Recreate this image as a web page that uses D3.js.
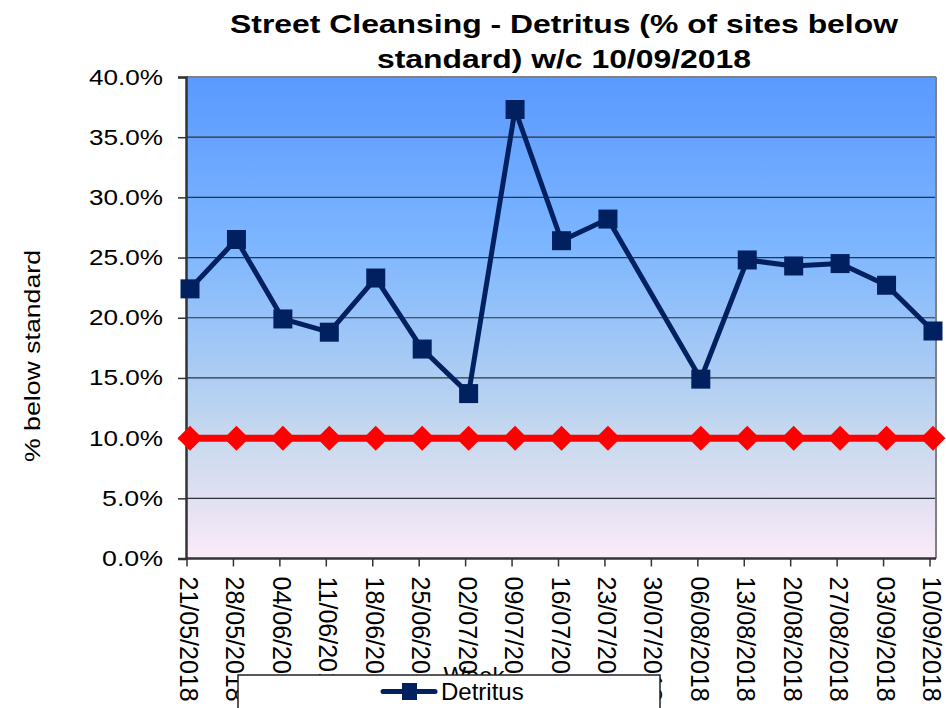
<!DOCTYPE html>
<html><head><meta charset="utf-8">
<script src="https://cdn.jsdelivr.net/npm/d3@7"></script>
<style>body{margin:0;background:#fff}svg text{font-family:"Liberation Sans",Arial,sans-serif}</style>
</head><body><svg id="c" width="946" height="708"></svg>
<script>
const categories = ["21/05/2018","28/05/2018","04/06/2018","11/06/2018","18/06/2018","25/06/2018","02/07/2018","09/07/2018","16/07/2018","23/07/2018","30/07/2018","06/08/2018","13/08/2018","20/08/2018","27/08/2018","03/09/2018","10/09/2018"];
const detritus = [22.4,26.5,19.9,18.8,23.3,17.4,13.7,37.3,26.4,28.2,null,14.9,24.8,24.3,24.5,22.7,18.9];
const target = [10,10,10,10,10,10,10,10,10,10,null,10,10,10,10,10,10];
const yTicks = [0,5,10,15,20,25,30,35,40];
const titleLines = ["Street Cleansing - Detritus (% of sites below","standard) w/c 10/09/2018"];

const svg = d3.select("#c");
const L=186, R=936, T=77, B=558.5;
const x = d3.scalePoint().domain(categories).range([190,933]);
const y = d3.scaleLinear().domain([0,40]).range([B,T]);

const defs = svg.append("defs");
const g = defs.append("linearGradient").attr("id","bg").attr("x1",0).attr("y1",0).attr("x2",0).attr("y2",1);
[[0,"#5a99ff"],[0.35,"#7db6ff"],[0.6,"#a9cbf4"],[0.75,"#c8d9ee"],[0.88,"#e2e0f2"],[1,"#fcebf8"]].forEach(s=>g.append("stop").attr("offset",s[0]).attr("stop-color",s[1]));

svg.append("rect").attr("x",L).attr("y",T).attr("width",R-L).attr("height",B-T).attr("fill","url(#bg)");

// gridlines
svg.append("g").selectAll("line").data(yTicks.filter(d=>d>0&&d<40)).join("line")
  .attr("x1",L).attr("x2",R).attr("y1",d=>y(d)).attr("y2",d=>y(d)).attr("stroke","#2a3340").attr("stroke-width",1.2);

// borders
svg.append("line").attr("x1",L).attr("x2",R).attr("y1",T).attr("y2",T).attr("stroke","#808080").attr("stroke-width",2);
svg.append("line").attr("x1",R).attr("x2",R).attr("y1",T).attr("y2",B).attr("stroke","#808080").attr("stroke-width",2);

// y axis
const ya = svg.append("g").attr("transform",`translate(${L},0)`)
  .call(d3.axisLeft(y).tickValues(yTicks).tickSize(8).tickPadding(15).tickFormat(d=>d.toFixed(1)+"%"));
ya.select(".domain").attr("stroke","#333").attr("stroke-width",2.5);
ya.selectAll(".tick line").attr("stroke","#333").attr("stroke-width",1.5);
ya.selectAll("text").attr("font-size",22).attr("fill","#000")
  .attr("textLength",d=>d>=10?74:61).attr("lengthAdjust","spacingAndGlyphs");

// x axis
const xa = svg.append("g").attr("transform",`translate(-3.5,${B})`)
  .call(d3.axisBottom(x).tickSize(8).tickFormat(()=>"" ));
xa.select(".domain").attr("stroke","#333").attr("stroke-width",2.5).attr("d",`M${L+3.5},0H${R+3.5}`);
xa.selectAll(".tick line").attr("stroke","#333").attr("stroke-width",1.5);
svg.append("g").selectAll("text").data(categories).join("text")
  .attr("transform",d=>`translate(${x(d)-10},${B+18}) rotate(90)`)
  .attr("font-size",25).attr("fill","#000").text(d=>d);

// axis titles
svg.append("text").attr("transform","translate(40,356) rotate(-90)").attr("text-anchor","middle").attr("font-size",22)
  .attr("textLength",212).attr("lengthAdjust","spacingAndGlyphs").text("% below standard");
svg.append("text").attr("x",474).attr("y",684).attr("text-anchor","middle").attr("font-size",24).text("Week");

// title
const tl = [668,374];
svg.append("g").selectAll("text").data(titleLines).join("text")
  .attr("x",564).attr("y",(d,i)=>33+i*35).attr("text-anchor","middle").attr("font-size",26).attr("font-weight","bold")
  .attr("textLength",(d,i)=>tl[i]).attr("lengthAdjust","spacingAndGlyphs").text(d=>d);

// target series
const tData = categories.map((c,i)=>({c,v:target[i]})).filter(d=>d.v!=null);
svg.append("path").datum(tData).attr("fill","none").attr("stroke","#ff0000").attr("stroke-width",7)
  .attr("d",d3.line().x(d=>x(d.c)).y(d=>y(d.v)));
svg.append("g").selectAll("path").data(tData).join("path")
  .attr("transform",d=>`translate(${x(d.c)},${y(d.v)})`).attr("d","M0,-12.5L12.5,0L0,12.5L-12.5,0Z").attr("fill","#ff0000");

// detritus series
const dData = categories.map((c,i)=>({c,v:detritus[i]})).filter(d=>d.v!=null);
svg.append("path").datum(dData).attr("fill","none").attr("stroke","#002060").attr("stroke-width",5).attr("stroke-linejoin","round")
  .attr("d",d3.line().x(d=>x(d.c)).y(d=>y(d.v)));
svg.append("g").selectAll("rect").data(dData).join("rect")
  .attr("x",d=>x(d.c)-9.5).attr("y",d=>y(d.v)-9.5).attr("width",19).attr("height",19).attr("fill","#002060");

// legend
svg.append("rect").attr("x",238).attr("y",675).attr("width",422).attr("height",40).attr("fill","#fff").attr("stroke","#222").attr("stroke-width",1.5);
svg.append("line").attr("x1",383).attr("x2",435).attr("y1",691.5).attr("y2",691.5).attr("stroke","#002060").attr("stroke-width",5).attr("stroke-linecap","round");
svg.append("rect").attr("x",402).attr("y",683).attr("width",15).attr("height",17).attr("fill","#002060");
svg.append("text").attr("x",441).attr("y",700).attr("font-size",24).text("Detritus");
</script></body></html>
